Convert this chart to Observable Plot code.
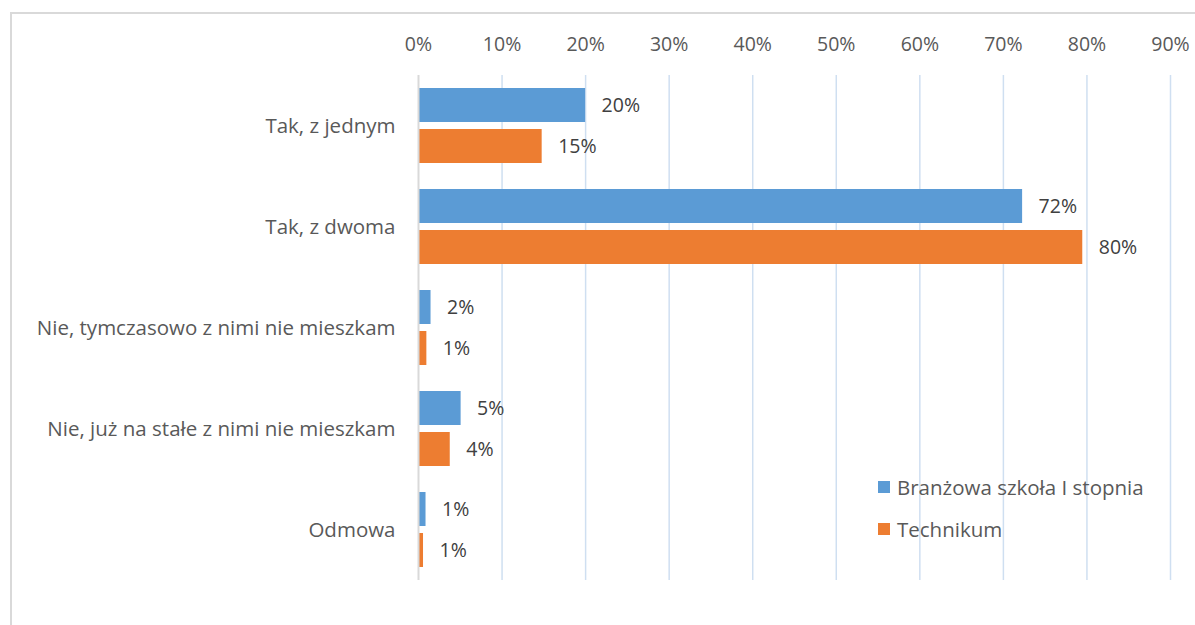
<!DOCTYPE html>
<html>
<head>
<meta charset="utf-8">
<script src="https://cdn.jsdelivr.net/npm/d3@7"></script>
<script src="https://cdn.jsdelivr.net/npm/@observablehq/plot@0.6"></script>
<style>
  html, body { margin: 0; padding: 0; background: #fff; overflow: hidden; }
  #wrap { position: relative; width: 1195px; height: 625px; overflow: hidden; font-family: "Open Sans", Lato, sans-serif; }
  #border { position: absolute; left: 10px; top: 12px; width: 1300px; height: 800px; border: 2px solid #D9D9D9; box-sizing: border-box; pointer-events: none; }
  #legend { position: absolute; left: 878px; top: 466px; font-size: 20.5px; color: #595959; }
  .item { display: flex; align-items: center; height: 42px; }
  .sw { width: 12px; height: 12px; margin-right: 7px; }
  #chart { position: absolute; left: 0; top: 0; }
</style>
</head>
<body>
<div id="wrap">
  <div id="chart"></div>
  <div id="border"></div>
  <div id="legend"></div>
</div>
<script>
const categories = [
  "Tak, z jednym",
  "Tak, z dwoma",
  "Nie, tymczasowo z nimi nie mieszkam",
  "Nie, już na stałe z nimi nie mieszkam",
  "Odmowa"
];
const seriesNames = ["Branżowa szkoła I stopnia", "Technikum"];
const seriesColors = ["#5B9BD5", "#ED7D31"];
const branzowa = [20, 72.3, 1.5, 5.1, 0.9];
const technikum = [14.8, 79.5, 1.0, 3.8, 0.6];
const xTicks = [0, 10, 20, 30, 40, 50, 60, 70, 80, 90];

const data = [];
categories.forEach((c, i) => {
  data.push({category: c, series: seriesNames[0], value: branzowa[i]});
  data.push({category: c, series: seriesNames[1], value: technikum[i]});
});

const font = "'Open Sans', Lato, sans-serif";
const fsNum = 19.5;
const fsWord = 20.5;

const chart = Plot.plot({
  width: 1195,
  height: 625,
  marginTop: 75,
  marginBottom: 45,
  marginLeft: 418,
  marginRight: 25,
  style: {fontFamily: font, background: "transparent"},
  x: {domain: [0, 90], ticks: xTicks, tickFormat: d => d + "%", label: null},
  fy: {domain: categories, padding: 0, label: null},
  y: {domain: seriesNames, paddingInner: 0.1667, paddingOuter: 0.286, axis: null, label: null},
  color: {domain: seriesNames, range: seriesColors},
  marks: [
    Plot.gridX(xTicks.filter(d => d > 0), {stroke: "#CFDFF1", strokeOpacity: 1, strokeWidth: 1.5}),
    Plot.barX(data, {x: "value", y: "series", fy: "category", fill: "series"}),
    Plot.ruleX([0], {stroke: "#D9D9D9", strokeWidth: 2}),
    Plot.text(data, {x: "value", y: "series", fy: "category", text: d => Math.round(d.value) + "%",
      dx: 16, textAnchor: "start", fontSize: fsNum, fill: "#404040"}),
    Plot.axisX({anchor: "top", ticks: xTicks, tickFormat: d => d + "%", tickSize: 0, tickPadding: 25,
      fontSize: fsNum, fill: "#595959", label: null}),
    Plot.axisFy({anchor: "left", tickSize: 0, tickPadding: 23, fontSize: fsWord, fill: "#595959", label: null})
  ]
});
document.getElementById("chart").appendChild(chart);

const legend = document.getElementById("legend");
seriesNames.forEach((s, i) => {
  const it = document.createElement("div");
  it.className = "item";
  const sw = document.createElement("div");
  sw.className = "sw";
  sw.style.background = seriesColors[i];
  const t = document.createElement("span");
  t.textContent = s;
  it.appendChild(sw);
  it.appendChild(t);
  legend.appendChild(it);
});
</script>
</body>
</html>
